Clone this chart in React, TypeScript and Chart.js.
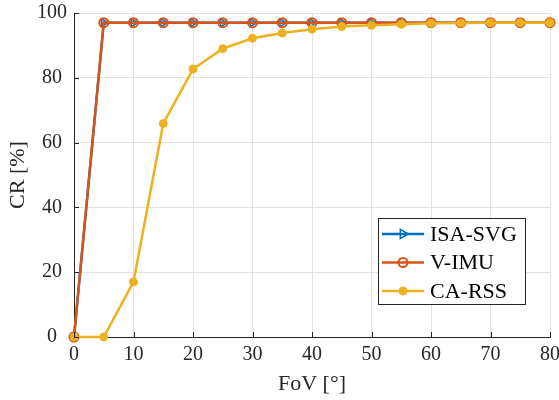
import React, { useEffect, useRef } from "react";
import { Chart, registerables } from "chart.js";

Chart.register(...registerables);

const fov = [0, 5, 10, 15, 20, 25, 30, 35, 40, 45, 50, 55, 60, 65, 70, 75, 80];
const isaSvg = [0, 97, 97, 97, 97, 97, 97, 97, 97, 97, 97, 97, 97, 97, 97, 97, 97];
const vImu = [0, 97, 97, 97, 97, 97, 97, 97, 97, 97, 97, 97, 97, 97, 97, 97, 97];
const caRss = [0, 0, 17, 65.9, 82.7, 89, 92.2, 93.8, 95, 95.8, 96.2, 96.5, 96.8, 96.9, 97, 97, 97];
const seriesNames = ["ISA-SVG", "V-IMU", "CA-RSS"];
const xTicks = [0, 10, 20, 30, 40, 50, 60, 70, 80];
const yTicks = [0, 20, 40, 60, 80, 100];

const FONT = "'Liberation Serif', 'Times New Roman', serif";
const BLUE = "#0072BD";
const ORANGE = "#D95319";
const YELLOW = "#EDB120";

export default function App() {
  const ref = useRef<HTMLCanvasElement | null>(null);

  useEffect(() => {
    document.body.style.margin = "0";
    const canvas = ref.current!;
    const toXY = (xs: number[], ys: number[]) => xs.map((x, i) => ({ x, y: ys[i] }));

    function drawMarker(ctx: CanvasRenderingContext2D, o: any, x: number, y: number) {
      const r = o.radius;
      ctx.beginPath();
      if (o.pointStyle === "triangle") {
        ctx.moveTo(x + r * 1.2, y);
        ctx.lineTo(x - r * 0.6, y - r);
        ctx.lineTo(x - r * 0.6, y + r);
        ctx.closePath();
      } else {
        ctx.arc(x, y, r, 0, Math.PI * 2);
      }
      ctx.fill();
      ctx.stroke();
    }

    const legendPlugin = {
      id: "customLegend",
      afterDraw(chart: any) {
        const ctx = chart.ctx as CanvasRenderingContext2D;
        const xs = chart.scales.x;
        const ys = chart.scales.y;
        const area = chart.chartArea;
        ctx.save();
        ctx.strokeStyle = "#262626";
        ctx.lineWidth = 1;
        ctx.beginPath();
        xTicks.forEach((t) => {
          const px = Math.round(xs.getPixelForValue(t)) + 0.5;
          ctx.moveTo(px, area.bottom);
          ctx.lineTo(px, area.bottom - 5);
        });
        yTicks.forEach((t) => {
          const py = Math.round(ys.getPixelForValue(t)) + 0.5;
          ctx.moveTo(area.left, py);
          ctx.lineTo(area.left + 5, py);
        });
        ctx.stroke();

        const bx = 378.5, by = 218.5, bw = 147, bh = 86;
        ctx.fillStyle = "#ffffff";
        ctx.fillRect(bx, by, bw, bh);
        ctx.strokeStyle = "#262626";
        ctx.lineWidth = 1;
        ctx.strokeRect(bx, by, bw, bh);
        const rowsY = [234, 262.5, 291];
        ctx.font = `22px ${FONT}`;
        ctx.textBaseline = "middle";
        chart.data.datasets.forEach((ds: any, i: number) => {
          const y = rowsY[i];
          ctx.strokeStyle = ds.borderColor;
          ctx.lineWidth = ds.borderWidth;
          ctx.beginPath();
          ctx.moveTo(382, y);
          ctx.lineTo(424, y);
          ctx.stroke();
          const opts = {
            pointStyle: ds.pointStyle,
            radius: ds.pointRadius,
          };
          ctx.strokeStyle = ds.pointBorderColor;
          ctx.fillStyle = ds.pointBackgroundColor;
          ctx.lineWidth = ds.pointBorderWidth;
          drawMarker(ctx, opts, 403, y);
          ctx.fillStyle = "#000000";
          ctx.fillText(seriesNames[i], 430, y + 1);
        });
        ctx.restore();
      },
    };

    const chart = new Chart(canvas, {
      type: "line",
      data: {
        datasets: [
          {
            label: seriesNames[0],
            data: toXY(fov, isaSvg),
            borderColor: BLUE,
            backgroundColor: BLUE,
            borderWidth: 2.5,
            pointStyle: "triangle",
            pointRotation: 90,
            pointRadius: 4.5,
            pointBorderWidth: 1.5,
            pointBorderColor: BLUE,
            pointBackgroundColor: "rgba(0,0,0,0)",
            clip: false,
            order: 2,
          } as any,
          {
            label: seriesNames[1],
            data: toXY(fov, vImu),
            borderColor: ORANGE,
            backgroundColor: ORANGE,
            borderWidth: 2.5,
            pointStyle: "circle",
            pointRadius: 4.5,
            pointBorderWidth: 2,
            pointBorderColor: ORANGE,
            pointBackgroundColor: "rgba(0,0,0,0)",
            clip: false,
            order: 1,
          } as any,
          {
            label: seriesNames[2],
            data: toXY(fov, caRss),
            borderColor: YELLOW,
            backgroundColor: YELLOW,
            borderWidth: 2.5,
            pointStyle: "circle",
            pointRadius: 4,
            pointBorderWidth: 1,
            pointBorderColor: YELLOW,
            pointBackgroundColor: YELLOW,
            clip: false,
            order: 0,
          } as any,
        ],
      },
      options: {
        animation: false,
        responsive: false,
        maintainAspectRatio: false,
        layout: { padding: { top: 13, right: 9, left: 0, bottom: 0 } },
        plugins: {
          legend: { display: false },
          tooltip: { enabled: false },
        },
        scales: {
          x: {
            type: "linear",
            min: 0,
            max: 80,
            afterFit: (s: any) => {
              s.height = 63;
              s.paddingLeft = 0;
              s.paddingRight = 0;
            },
            afterBuildTicks: (s: any) => {
              s.ticks = xTicks.map((v) => ({ value: v }));
            },
            ticks: {
              font: { family: FONT, size: 20 },
              color: "#262626",
              padding: 6,
              maxRotation: 0,
            },
            grid: {
              color: "#e3e3e3",
              drawTicks: false,
            },
            border: { color: "#262626", width: 1 },
            title: {
              display: true,
              text: "FoV [°]",
              font: { family: FONT, size: 22 },
              color: "#262626",
              padding: { top: 0, bottom: 3 },
            },
          },
          y: {
            type: "linear",
            min: 0,
            max: 100,
            afterFit: (s: any) => {
              s.width = 74;
              s.paddingTop = 0;
              s.paddingBottom = 0;
            },
            afterBuildTicks: (s: any) => {
              s.ticks = yTicks.map((v) => ({ value: v }));
            },
            ticks: {
              font: { family: FONT, size: 20 },
              color: "#262626",
              padding: 7,
              crossAlign: "center",
            },
            grid: {
              color: "#e3e3e3",
              drawTicks: false,
            },
            border: { color: "#262626", width: 1 },
            title: {
              display: true,
              text: "CR [%]",
              font: { family: FONT, size: 22 },
              color: "#262626",
              padding: { top: 5, bottom: 0 },
            },
          },
        },
      },
      plugins: [legendPlugin],
    } as any);

    return () => chart.destroy();
  }, []);

  return (
    <div style={{ position: "absolute", left: 0, top: 0, width: 559, height: 400, background: "#fff" }}>
      <canvas ref={ref} width={559} height={400} style={{ width: 559, height: 400 }} />
    </div>
  );
}
